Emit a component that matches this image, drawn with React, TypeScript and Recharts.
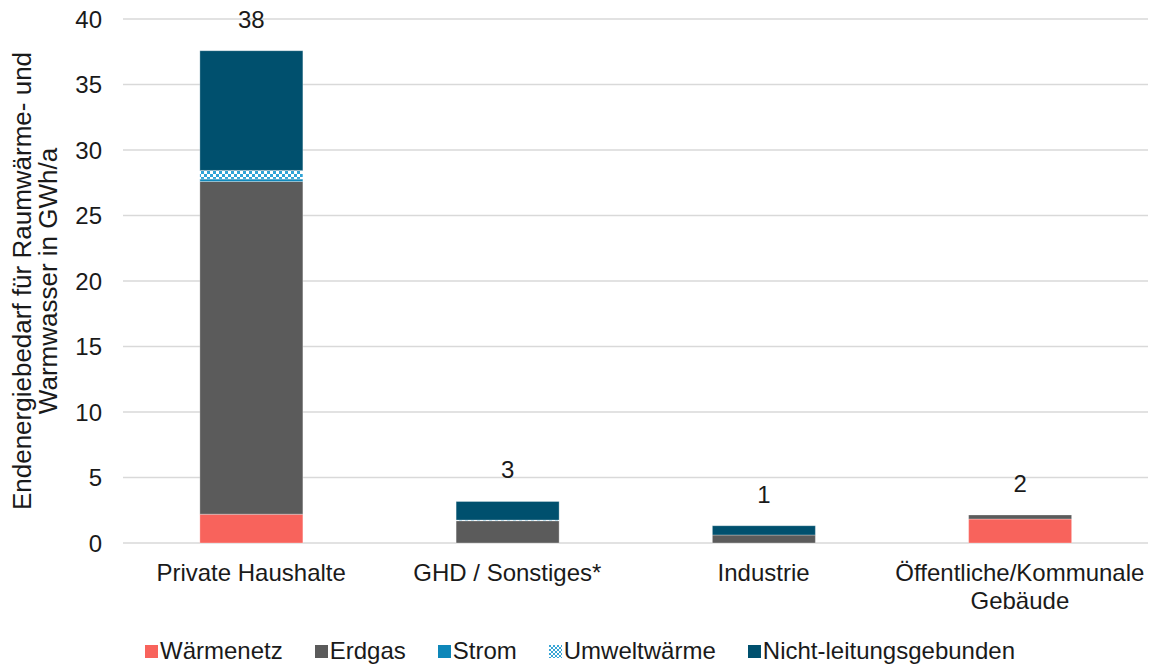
import { BarChart, Bar, XAxis, YAxis, CartesianGrid, LabelList, Label } from 'recharts';

// Categories and values (GWh/a)
const categories = ['Private Haushalte', 'GHD / Sonstiges*', 'Industrie', 'Öffentliche/Kommunale\nGebäude'];
const waermenetz = [2.2, 0, 0, 1.83];
const erdgas = [25.4, 1.7, 0.61, 0.31];
const strom = [0.18, 0.02, 0, 0];
const umweltwaerme = [0.66, 0.03, 0, 0];
const nichtLeitungsgebunden = [9.14, 1.42, 0.71, 0];
const yTicks = [0, 5, 10, 15, 20, 25, 30, 35, 40];

const series = [
  { key: 'waermenetz', name: 'Wärmenetz', color: '#f8635c' },
  { key: 'erdgas', name: 'Erdgas', color: '#5b5b5b' },
  { key: 'strom', name: 'Strom', color: '#0e87b9' },
  { key: 'umwelt', name: 'Umweltwärme', color: 'url(#umweltPattern)' },
  { key: 'nicht', name: 'Nicht-leitungsgebunden', color: '#00506e' },
];

const data = categories.map((name, i) => ({
  name,
  waermenetz: waermenetz[i],
  erdgas: erdgas[i],
  strom: strom[i],
  umwelt: umweltwaerme[i],
  nicht: nichtLeitungsgebunden[i],
}));

const totals = data.map(d => d.waermenetz + d.erdgas + d.strom + d.umwelt + d.nicht);

const FONT = '"Liberation Sans", Arial, sans-serif';
const TEXT = '#1a1a1a';

const CategoryTick = (props: any) => {
  const { x, y, payload } = props;
  const lines = String(payload.value).split('\n');
  return (
    <text x={x} y={y} textAnchor="middle" fontFamily={FONT} fontSize={24} fill={TEXT}>
      {lines.map((line, i) => (
        <tspan key={i} x={x} dy={i === 0 ? 30 : 28}>{line}</tspan>
      ))}
    </text>
  );
};

// label sits on the Erdgas segment (non-zero everywhere); shift up by the layers above it
const TotalLabel = (props: any) => {
  const { x, y, width, height, index } = props;
  const d = data[index];
  const pxPerUnit = height / d.erdgas;
  const top = y - (d.strom + d.umwelt + d.nicht) * pxPerUnit;
  return (
    <text x={x + width / 2} y={top - 23} textAnchor="middle" fontFamily={FONT} fontSize={24} fill={TEXT}>
      {Math.round(totals[index])}
    </text>
  );
};

const AxisTitle = (props: any) => {
  const { viewBox } = props;
  const cy = viewBox.y + viewBox.height / 2;
  return (
    <text transform={`translate(0, ${cy}) rotate(-90)`} textAnchor="middle" fontFamily={FONT} fontSize={26} fill={TEXT}>
      <tspan x={0} y={31}>Endenergiebedarf für Raumwärme- und</tspan>
      <tspan x={0} y={57}>Warmwasser in GWh/a</tspan>
    </text>
  );
};

function LegendRow() {
  return (
    <div style={{ position: 'absolute', left: 0, top: 636, width: 1160, display: 'flex', justifyContent: 'center', fontFamily: FONT, fontSize: 24, lineHeight: '30px', color: TEXT }}>
      {series.map(s => (
        <div key={s.key} style={{ display: 'flex', alignItems: 'center', marginLeft: 16, marginRight: 16 }}>
          <svg width={13} height={13} style={{ marginRight: 2 }}>
            <defs>
              <pattern id={`lg-${s.key}`} width={4} height={4} patternUnits="userSpaceOnUse">
                <rect width={4} height={4} fill="#ffffff" />
                <rect width={2} height={2} fill="#3aa6d6" />
                <rect x={2} y={2} width={2} height={2} fill="#3aa6d6" />
              </pattern>
            </defs>
            <rect width={13} height={13} fill={s.key === 'umwelt' ? `url(#lg-${s.key})` : s.color} />
          </svg>
          <span>{s.name}</span>
        </div>
      ))}
    </div>
  );
}

export default function App() {
  return (
    <div style={{ position: 'absolute', left: 0, top: 0, width: 1160, height: 666, background: '#fff' }}>
      <BarChart width={1160} height={666} data={data} margin={{ top: 19, right: 12, left: 0, bottom: 63 }} barCategoryGap="30%">
        <defs>
          <pattern id="umweltPattern" width={6} height={6} patternUnits="userSpaceOnUse">
            <rect width={6} height={6} fill="#ffffff" />
            <rect width={3} height={3} fill="#2fa3d6" />
            <rect x={3} y={3} width={3} height={3} fill="#2fa3d6" />
          </pattern>
        </defs>
        <CartesianGrid vertical={false} stroke="#d9d9d9" strokeWidth={1.5} />
        <XAxis dataKey="name" axisLine={false} tickLine={false} tick={<CategoryTick />} interval={0} height={60} />
        <YAxis
          width={123}
          domain={[0, 40]}
          ticks={yTicks}
          axisLine={false}
          tickLine={false}
          tickMargin={15}
          tick={{ fontFamily: FONT, fontSize: 24, fill: TEXT }}
        >
          <Label content={<AxisTitle />} />
        </YAxis>
        {series.map(s => (
          <Bar
            key={s.key}
            dataKey={s.key}
            name={s.name}
            stackId="a"
            fill={s.color}
            stroke="#ffffff"
            strokeOpacity={0.4}
            strokeWidth={0.75}
            isAnimationActive={false}
          >
            {s.key === 'erdgas' && <LabelList dataKey={s.key} content={<TotalLabel />} />}
          </Bar>
        ))}
      </BarChart>
      <LegendRow />
    </div>
  );
}
